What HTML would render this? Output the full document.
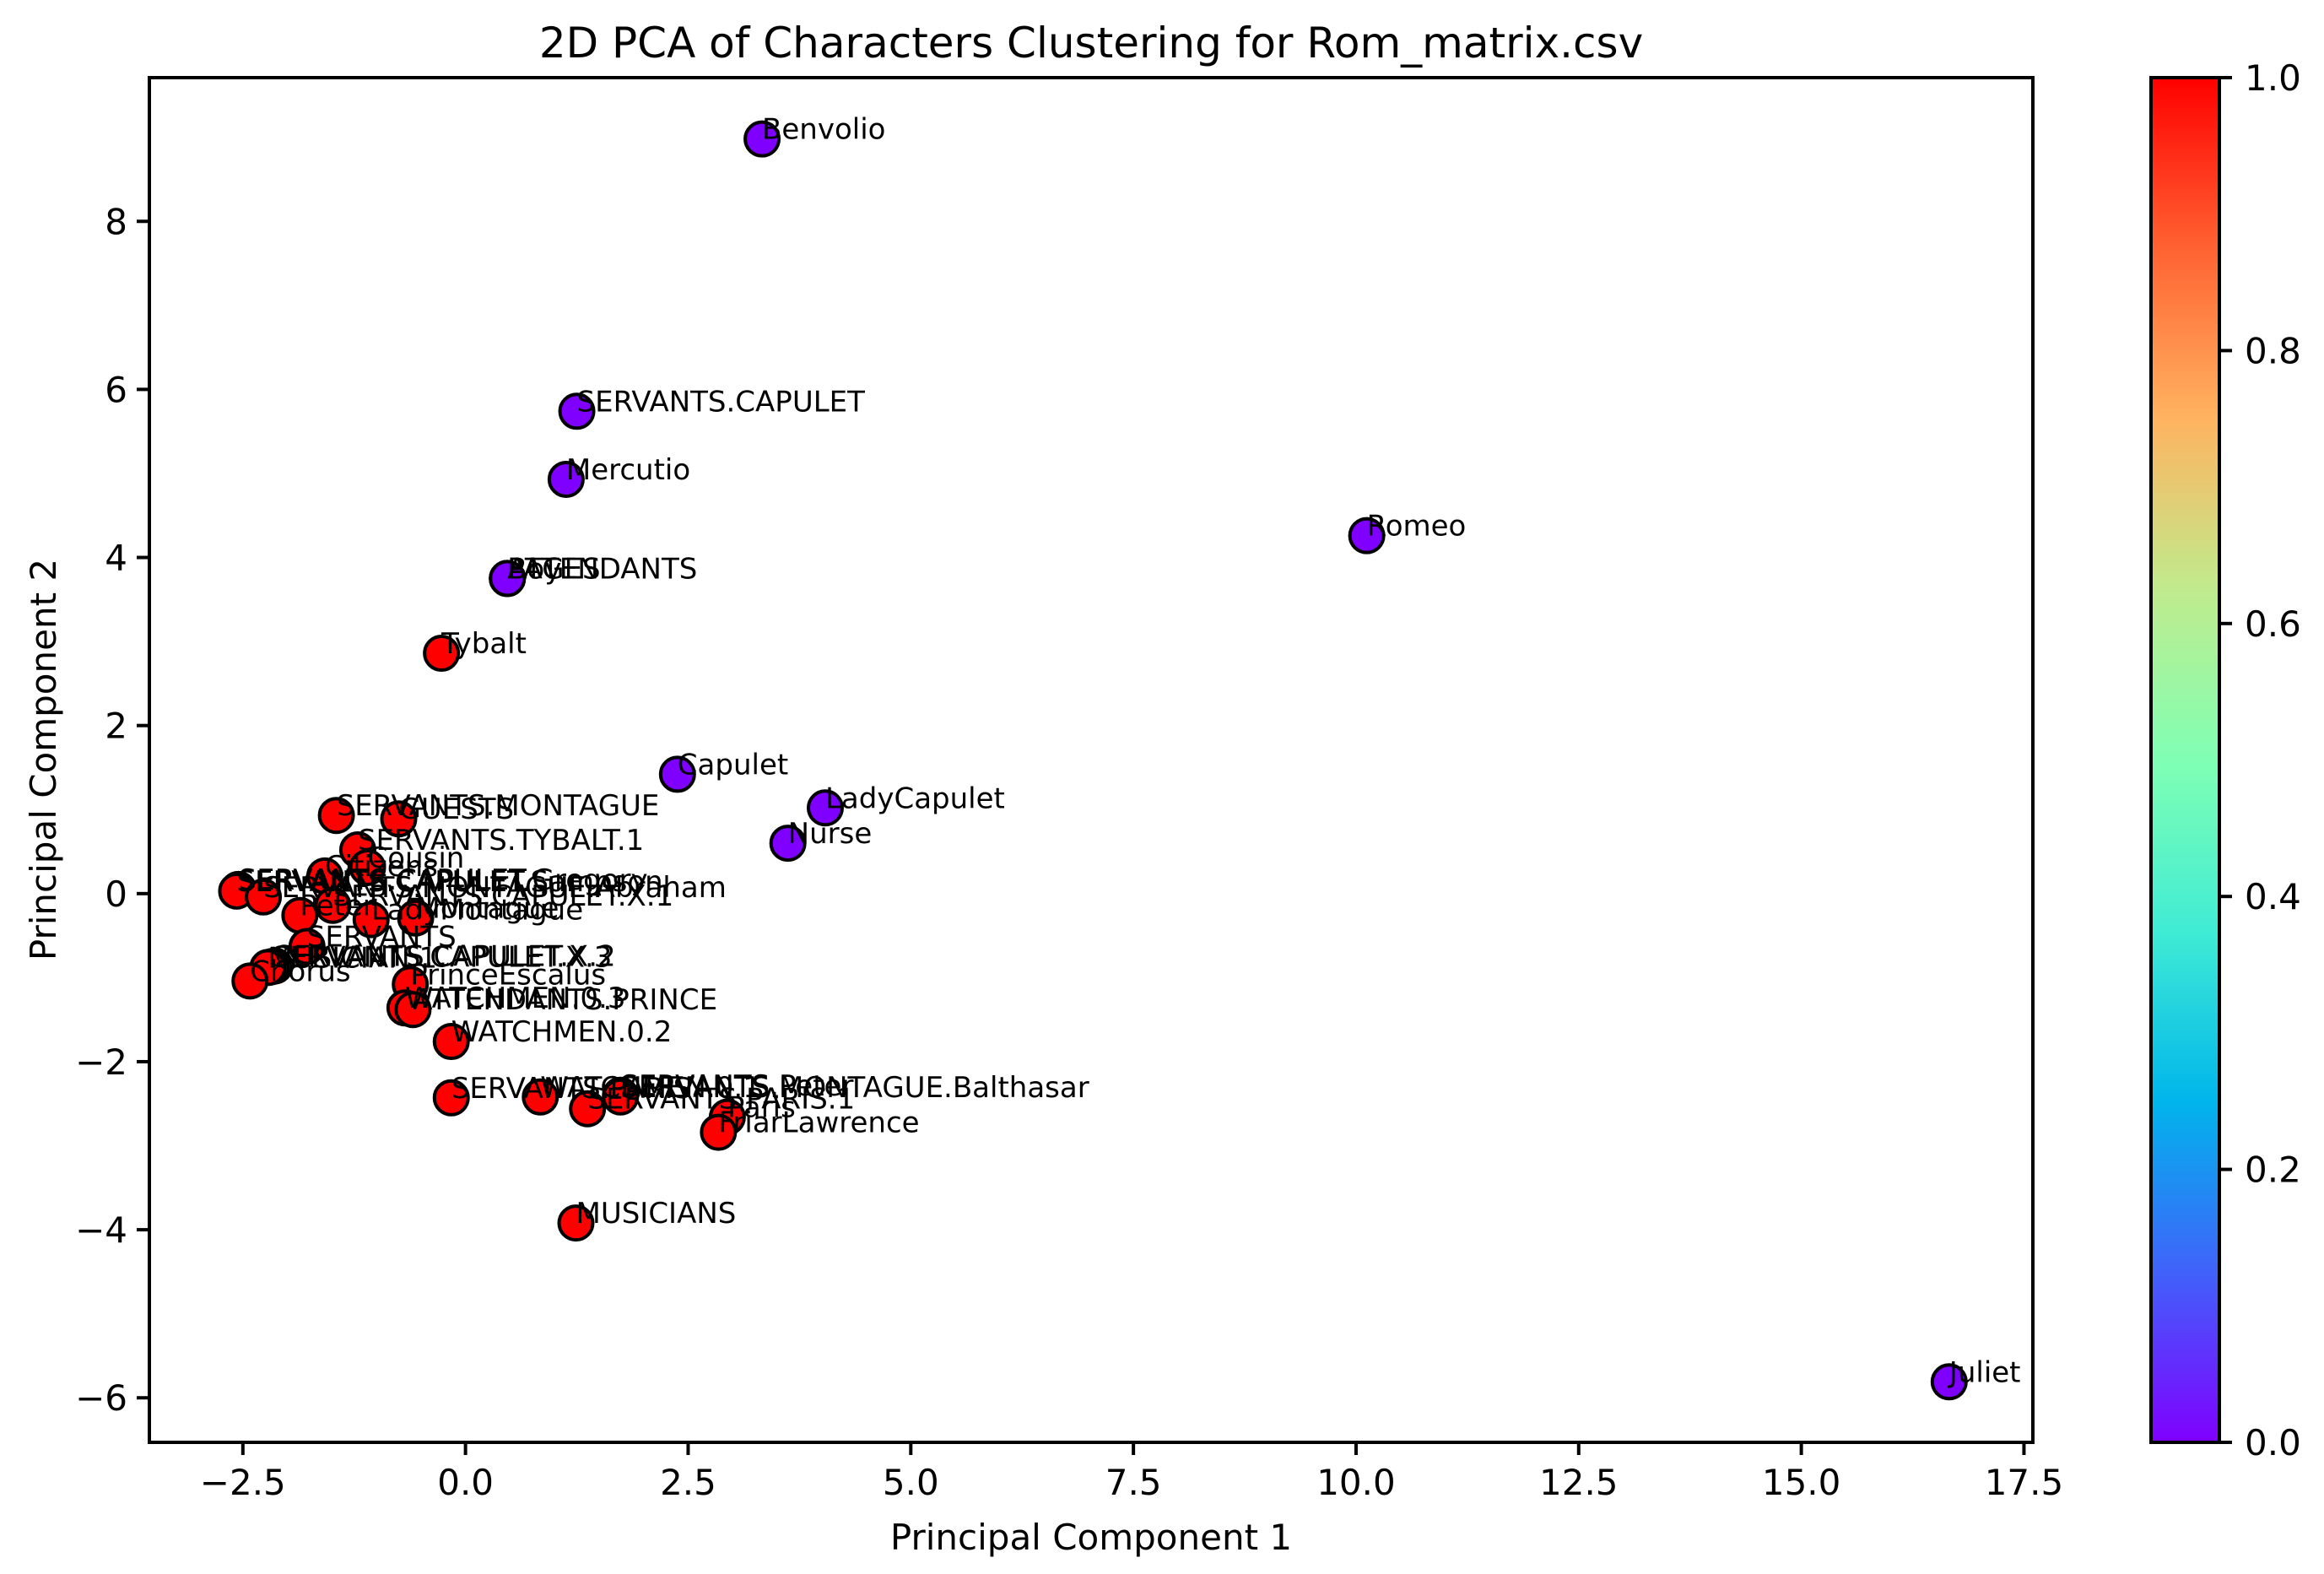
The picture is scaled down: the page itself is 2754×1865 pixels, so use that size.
<!DOCTYPE html>
<html><head><meta charset="utf-8"><style>
html,body{margin:0;padding:0;background:#fff;}
svg{display:block;font-family:"DejaVu Sans","Liberation Sans",sans-serif;}
</style></head><body>
<svg id="chart" width="2754" height="1865" viewBox="0 0 2754 1865" xmlns="http://www.w3.org/2000/svg">
<defs>
<linearGradient id="rainbow" x1="0" y1="1" x2="0" y2="0">
<stop offset="0" stop-color="#8000ff"/><stop offset="0.125" stop-color="#4062fa"/>
<stop offset="0.25" stop-color="#00b5eb"/><stop offset="0.375" stop-color="#40ecd4"/>
<stop offset="0.5" stop-color="#80ffb4"/><stop offset="0.625" stop-color="#c0eb8d"/>
<stop offset="0.75" stop-color="#ffb360"/><stop offset="0.875" stop-color="#ff6232"/>
<stop offset="1" stop-color="#ff0000"/>
</linearGradient>
</defs>
<text x="1293" y="68" font-size="50" text-anchor="middle">2D PCA of Characters Clustering for Rom_matrix.csv</text>
<text x="1293" y="1836" font-size="42" text-anchor="middle">Principal Component 1</text>
<text x="0" y="0" font-size="42" text-anchor="middle" transform="translate(66,900) rotate(-90)">Principal Component 2</text>
<g id="xticks"></g>
<g id="yticks"></g>
<g id="points"></g>
<g id="labels"></g>
<rect x="177" y="92" width="2232" height="1617" fill="none" stroke="#000" stroke-width="4"/>
<rect x="2549" y="92" width="81" height="1617" fill="url(#rainbow)" stroke="#000" stroke-width="4"/>
<g id="cticks"></g>
</svg>
<script>
const names = ["Benvolio","SERVANTS.CAPULET","Mercutio","Romeo","ATTENDANTS","Boy","PAGES","Tybalt","Capulet","LadyCapulet","Nurse","Juliet",
"SERVANTS.MONTAGUE","GUESTS","SERVANTS.TYBALT.1","Cousin","Citizens","SERVANTS.CAPULET.Gregory","SERVANTS.CAPULET.Sampson","SERVANTS.MONTAGUE.Abraham","SERVANTS.CAPULET.X.1","Peter","LadyMontague","Montague","SERVANTS","SERVANTS.CAPULET.X.2","SERVANTS.CAPULET.X.3","MUSICIAN.1","Chorus","PrinceEscalus","WATCHMEN.0.3","ATTENDANTS.PRINCE","WATCHMEN.0.2",
"SERVANTS.PARIS","WATCHMEN.0.1","SERVANTS.Peter","SERVANTS.PARIS.1","SERVANTS.MONTAGUE.Balthasar","Paris","FriarLawrence","MUSICIANS"];
const pc1 = [3.33,1.25,1.13,10.12,0.47,0.47,0.47,-0.27,2.38,4.04,3.62,16.66,
-1.45,-0.75,-1.21,-1.1,-1.58,-2.55,-2.57,-2.27,-1.49,-1.86,-1.06,-0.56,-1.78,-2.14,-2.18,-2.22,-2.42,-0.62,-0.68,-0.59,-0.16,
-0.16,0.84,1.74,1.37,1.74,2.94,2.84,1.24];
const pc2 = [8.98,5.74,4.93,4.26,3.75,3.75,3.75,2.86,1.42,1.02,0.6,-5.81,
0.93,0.89,0.52,0.31,0.21,0.05,0.03,-0.04,-0.14,-0.26,-0.31,-0.29,-0.63,-0.86,-0.87,-0.88,-1.04,-1.08,-1.36,-1.38,-1.76,
-2.43,-2.42,-2.4,-2.56,-2.42,-2.66,-2.84,-3.92];
const cluster = [0,0,0,0,0,0,0,1,0,0,0,0, 1,1,1,1,1,1,1,1,1,1,1,1,1,1,1,1,1,1,1,1,1, 1,1,1,1,1,1,1,1];
const xTicks = [-2.5,0,2.5,5,7.5,10,12.5,15,17.5];
const yTicks = [-6,-4,-2,0,2,4,6,8];
const cTicks = [0,0.2,0.4,0.6,0.8,1.0];

const NS="http://www.w3.org/2000/svg";
const X0=177,X1=2409,Y0=92,Y1=1709;
const xmin=-3.55,xmax=17.6,ymin=-6.53,ymax=9.71;
function sx(v){return X0+(v-xmin)/(xmax-xmin)*(X1-X0);}
function sy(v){return Y1-(v-ymin)/(ymax-ymin)*(Y1-Y0);}
function cy(v){return Y1-v*(Y1-Y0);}
function mk(tag,attrs,parent){const e=document.createElementNS(NS,tag);for(const k in attrs)e.setAttribute(k,attrs[k]);parent.appendChild(e);return e;}
function fmtX(v){return (v<0?"\u2212":"")+Math.abs(v).toFixed(1);}
function fmtY(v){return (v<0?"\u2212":"")+Math.abs(v);}

const gx=document.getElementById("xticks");
xTicks.forEach(v=>{
  const l=mk("line",{x1:sx(v),x2:sx(v),y1:Y1,y2:Y1+15,stroke:"#000","stroke-width":4},gx);
  
  
  const t=mk("text",{x:sx(v),y:Y1+62,"font-size":42,"text-anchor":"middle"},gx);
  
  
  t.textContent=fmtX(v);
});
const gy=document.getElementById("yticks");
yTicks.forEach(v=>{
  const l=mk("line",{x1:X0-15,x2:X0,y1:sy(v),y2:sy(v),stroke:"#000","stroke-width":4},gy);
  
  
  const t=mk("text",{x:X0-26,y:sy(v)+15,"font-size":42,"text-anchor":"end"},gy);
  
  
  t.textContent=fmtY(v);
});
const gc=document.getElementById("cticks");
cTicks.forEach(v=>{
  const l=mk("line",{x1:2630,x2:2645,y1:cy(v),y2:cy(v),stroke:"#000","stroke-width":4},gc);
  
  
  const t=mk("text",{x:2660,y:cy(v)+15,"font-size":42},gc);
  
  
  t.textContent=v.toFixed(1);
});
const gp=document.getElementById("points"), gl=document.getElementById("labels");
names.forEach((n,i)=>{
  const c=mk("circle",{cx:sx(pc1[i]),cy:sy(pc2[i]),r:20,fill:cluster[i]?"#ff0000":"#8000ff",stroke:"#000","stroke-width":4},gp);
  
  
});
names.forEach((n,i)=>{
  const t=mk("text",{x:sx(pc1[i]),y:sy(pc2[i]),"font-size":34},gl);
  
  
  t.textContent=n;
});
</script>
</body></html>
